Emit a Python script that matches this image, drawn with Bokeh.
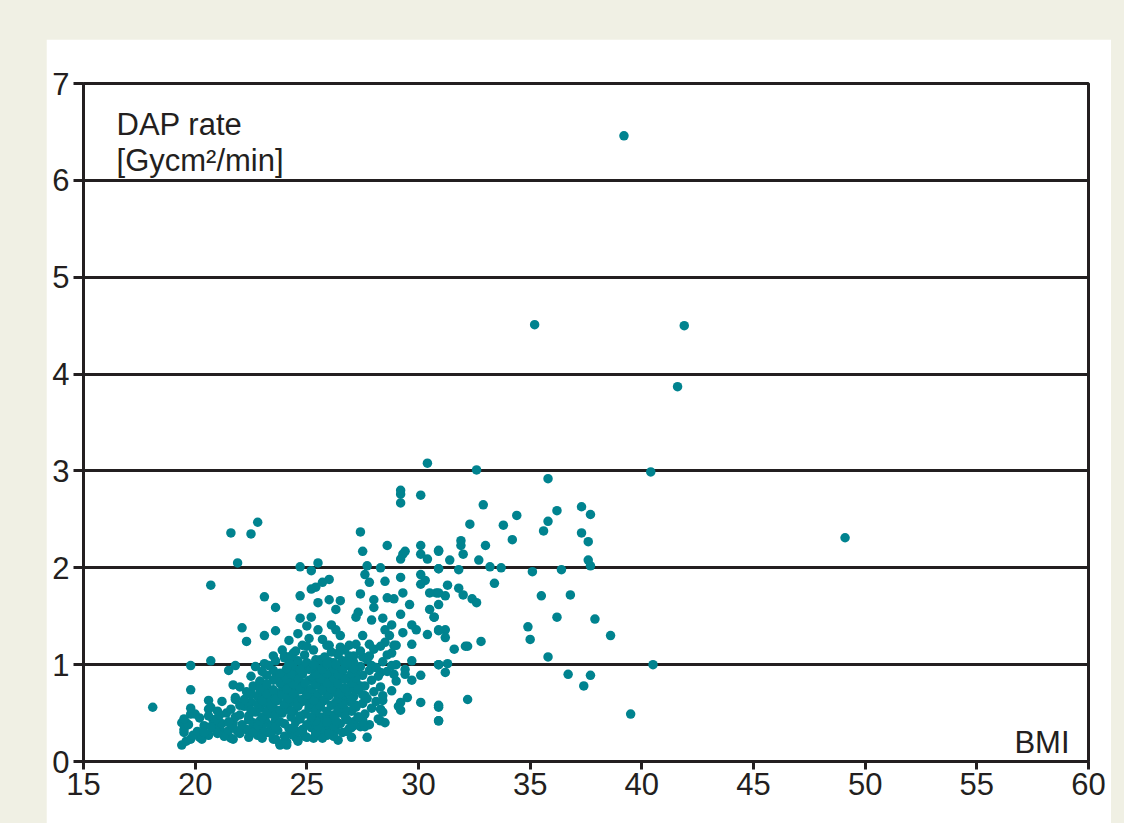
from bokeh.plotting import figure
from bokeh.models import Range1d, FixedTicker, Label, Column
from bokeh.embed import file_html
from bokeh.resources import INLINE

# ---------------- data ----------------
x_ticks = [15, 20, 25, 30, 35, 40, 45, 50, 55, 60]
y_ticks = [0, 1, 2, 3, 4, 5, 6, 7]

# isolated high values
bmi_out = [39.2, 35.2, 41.9, 41.6, 40.4, 49.1, 40.5, 39.5, 38.6, 37.9, 30.4]
rate_out = [6.46, 4.51, 4.50, 3.87, 2.99, 2.31, 1.00, 0.49, 1.30, 1.47, 3.08]

# upper-right scatter (BMI 30-38)
bmi_right = [32.6, 35.8, 32.9, 34.4, 36.2, 37.3, 37.7, 32.3, 33.8, 35.8, 35.6, 37.3,
             37.6, 31.9, 31.9, 32.0, 33.0, 34.2, 30.9, 31.4, 32.7, 37.6, 37.7, 30.9,
             31.8, 33.2, 33.7, 35.1, 36.4, 33.4, 31.3, 31.8, 30.8, 31.2, 32.0, 32.4,
             32.6, 35.5, 36.8, 30.9, 30.7, 36.2, 34.9, 35.0, 30.9, 31.2, 31.2, 32.8,
             31.6, 32.1, 32.2, 35.8, 30.9, 31.3, 31.2, 36.7, 37.7, 37.4, 32.2, 30.9,
             30.9]
rate_right = [3.01, 2.92, 2.65, 2.54, 2.59, 2.63, 2.55, 2.45, 2.44, 2.48, 2.38, 2.36,
              2.27, 2.28, 2.23, 2.14, 2.23, 2.29, 2.18, 2.08, 2.08, 2.08, 2.02, 1.99,
              1.98, 2.01, 2.00, 1.96, 1.98, 1.84, 1.82, 1.79, 1.74, 1.71, 1.72, 1.68,
              1.64, 1.71, 1.72, 1.62, 1.49, 1.49, 1.39, 1.26, 1.35, 1.36, 1.28, 1.24,
              1.16, 1.19, 1.19, 1.08, 1.00, 1.01, 0.92, 0.90, 0.89, 0.78, 0.64, 0.56,
              0.42]

# middle band (BMI 24-31, rate 1-2.8)
bmi_mid = [29.2, 29.2, 30.1, 29.2, 27.4, 27.5, 28.6, 29.3, 29.2, 30.1, 30.1, 30.9,
           30.4, 24.7, 25.2, 25.5, 27.7, 28.3, 30.9, 27.6, 29.2, 30.1, 30.3, 27.8,
           28.5, 26.0, 25.7, 25.4, 25.2, 30.1, 24.7, 27.4, 30.5, 30.9, 25.5, 26.0,
           26.5, 28.0, 28.6, 28.9, 29.3, 26.3, 28.0, 29.6, 27.3, 29.2, 30.5, 24.7,
           25.2, 27.2, 28.4, 30.7, 26.1, 27.9, 28.8, 29.7, 25.5, 26.3, 29.9, 28.5,
           30.9, 25.1, 25.7, 26.5, 27.5, 28.7, 29.3, 30.4, 26.0, 26.9, 27.8, 28.5,
           28.9, 29.7, 26.4, 27.1, 27.8, 28.8, 24.0, 24.4, 25.4, 26.2, 27.0, 27.9,
           28.3, 29.0, 29.4, 29.7, 30.1, 30.9, 29.4, 24.2, 24.6, 23.9, 24.4, 24.8,
           25.0]
rate_mid = [2.76, 2.67, 2.75, 2.80, 2.37, 2.17, 2.23, 2.14, 2.09, 2.23, 2.14, 2.17,
            2.09, 2.01, 1.97, 2.05, 2.02, 2.00, 1.99, 1.93, 1.90, 1.93, 1.87, 1.85,
            1.86, 1.88, 1.85, 1.80, 1.78, 1.83, 1.71, 1.73, 1.74, 1.74, 1.64, 1.67,
            1.66, 1.67, 1.69, 1.68, 1.74, 1.57, 1.59, 1.62, 1.54, 1.52, 1.57, 1.48,
            1.49, 1.49, 1.48, 1.49, 1.41, 1.46, 1.41, 1.41, 1.36, 1.36, 1.36, 1.36,
            1.36, 1.27, 1.26, 1.30, 1.30, 1.30, 1.33, 1.31, 1.20, 1.20, 1.21, 1.23,
            1.20, 1.21, 1.12, 1.09, 1.09, 1.12, 1.09, 1.04, 1.05, 1.02, 0.97, 0.99,
            0.92, 1.00, 0.90, 0.84, 0.89, 1.00, 2.17, 1.25, 1.32, 1.15, 1.12, 1.20,
            1.40]

# lower-right of the cloud (BMI 27-31, rate < 0.7)
bmi_low = [29.2, 30.1, 30.9, 30.9, 29.2, 28.4, 28.3, 28.3, 27.7, 27.1, 27.5, 27.1,
           27.6, 27.4, 26.6, 26.3, 25.8, 25.4, 24.8, 24.5, 24.1, 23.8]
rate_low = [0.61, 0.61, 0.58, 0.42, 0.53, 0.63, 0.54, 0.42, 0.25, 0.37, 0.43, 0.58,
            0.68, 0.78, 0.71, 0.58, 0.40, 0.30, 0.33, 0.25, 0.17, 0.17]

# left part (BMI 18-24)
bmi_left = [22.8, 21.6, 22.5, 21.9, 20.7, 23.1, 23.6, 22.1, 22.3, 23.1, 23.6, 19.8,
            20.7, 21.5, 21.8, 23.1, 23.5, 24.0, 19.8, 18.1, 20.6, 20.6, 19.8, 19.6,
            19.5, 19.4, 19.8, 20.2, 20.6, 20.9, 21.1, 21.4, 21.7, 22.0, 21.7, 21.8,
            21.7, 22.5, 22.9, 22.9, 22.3, 22.4, 22.6, 20.8, 21.1, 23.3, 23.5, 23.3,
            23.8, 23.8, 24.1, 24.1, 23.2, 22.9, 23.6, 23.8, 23.6, 19.4]
rate_left = [2.47, 2.36, 2.35, 2.05, 1.82, 1.70, 1.59, 1.38, 1.24, 1.30, 1.35, 0.99,
             1.04, 0.94, 0.99, 1.01, 1.09, 1.07, 0.74, 0.56, 0.63, 0.54, 0.49, 0.40,
             0.30, 0.17, 0.23, 0.25, 0.27, 0.37, 0.33, 0.30, 0.23, 0.32, 0.40, 0.64,
             0.79, 0.71, 0.82, 0.71, 0.58, 0.43, 0.37, 0.43, 0.40, 0.63, 0.54, 0.74,
             0.85, 0.71, 0.95, 0.58, 0.40, 0.30, 0.23, 0.18, 1.04, 0.40]

# dense core (BMI 19.5-29.5, rate 0.2-1.2)
bmi_core = [23.8, 24.1, 26.4, 19.6, 20.3, 21.6, 23.5, 24.6, 25.3,
            19.9, 20.6, 21.3, 22.0, 22.8, 23.2, 24.3, 24.9, 25.5, 25.9, 26.6,
            19.5, 20.1, 20.9, 21.5, 22.3, 23.0, 23.7, 24.2, 24.8, 25.2, 25.7, 26.3, 26.9, 27.4,
            19.7, 20.4, 21.2, 22.1, 22.6, 23.4, 24.0, 24.5, 25.0, 25.5, 26.0, 26.5, 27.1, 27.8, 28.5,
            19.5, 20.2, 20.9, 21.8, 22.4, 23.1, 23.6, 24.3, 24.7, 25.2, 25.6, 26.1, 26.8, 27.3, 28.2,
            20.0, 21.4, 22.0, 22.7, 23.3, 23.9, 24.4, 24.9, 25.4, 25.9, 26.4, 27.0, 27.6, 28.4,
            19.8, 20.7, 21.6, 22.2, 22.9, 23.5, 24.1, 24.6, 25.1, 25.6, 26.1, 26.7, 27.2, 27.9, 29.1,
            21.2, 22.5, 23.2, 23.7, 24.3, 24.8, 25.3, 25.8, 26.3, 26.9, 27.5, 28.1,
            21.8, 22.8, 23.4, 24.0, 24.5, 25.0, 25.5, 26.0, 26.6, 27.1, 27.7, 28.4, 29.5,
            22.3, 23.0, 23.6, 24.2, 24.7, 25.2, 25.7, 26.2, 26.8, 27.3, 28.0, 28.8,
            22.0, 22.6, 23.2, 23.9, 24.4, 24.9, 25.4, 25.9, 26.4, 27.0, 27.6, 28.3,
            22.9, 23.5, 24.1, 24.6, 25.1, 25.6, 26.1, 26.7, 27.2, 27.9, 29.0,
            22.5, 23.2, 23.8, 24.3, 24.8, 25.3, 25.9, 26.4, 26.9, 27.5, 28.2, 28.9,
            23.0, 23.5, 24.0, 24.6, 25.1, 25.6, 26.1, 26.6, 27.2, 27.8, 28.6, 29.4,
            22.7, 23.3, 24.4, 24.9, 25.4, 25.8, 26.3, 26.8, 27.4, 28.1, 28.8,
            24.6, 25.0, 25.6, 26.0, 26.6, 27.1, 27.7, 28.4, 29.7,
            24.3, 24.9, 25.8, 26.4, 26.9, 27.5, 28.6,
            24.5, 25.3, 26.1, 26.7, 27.4, 28.0,
            25.0, 25.9, 26.5, 27.2, 28.3, 29.0]
rate_core = [0.18, 0.20, 0.22, 0.21, 0.23, 0.24, 0.23, 0.21, 0.24,
             0.27, 0.28, 0.26, 0.29, 0.27, 0.30, 0.28, 0.26, 0.29, 0.27, 0.30,
             0.33, 0.31, 0.34, 0.32, 0.33, 0.35, 0.32, 0.34, 0.31, 0.35, 0.33, 0.32, 0.34, 0.36,
             0.38, 0.37, 0.39, 0.38, 0.40, 0.37, 0.39, 0.41, 0.38, 0.40, 0.37, 0.39, 0.41, 0.38, 0.40,
             0.44, 0.45, 0.43, 0.46, 0.44, 0.45, 0.43, 0.46, 0.44, 0.43, 0.46, 0.45, 0.43, 0.46, 0.44,
             0.49, 0.50, 0.48, 0.51, 0.49, 0.50, 0.52, 0.49, 0.51, 0.48, 0.50, 0.52, 0.49, 0.51,
             0.55, 0.56, 0.54, 0.57, 0.55, 0.56, 0.54, 0.57, 0.55, 0.56, 0.58, 0.54, 0.56, 0.55, 0.57,
             0.62, 0.61, 0.60, 0.63, 0.61, 0.62, 0.60, 0.63, 0.61, 0.62, 0.60, 0.62,
             0.66, 0.67, 0.65, 0.68, 0.66, 0.67, 0.65, 0.68, 0.66, 0.67, 0.65, 0.68, 0.66,
             0.72, 0.73, 0.71, 0.72, 0.74, 0.71, 0.73, 0.72, 0.71, 0.74, 0.72, 0.73,
             0.77, 0.78, 0.76, 0.78, 0.77, 0.76, 0.79, 0.77, 0.78, 0.76, 0.78, 0.77,
             0.83, 0.84, 0.82, 0.83, 0.84, 0.82, 0.83, 0.85, 0.82, 0.84, 0.83,
             0.88, 0.89, 0.87, 0.88, 0.90, 0.87, 0.89, 0.88, 0.87, 0.89, 0.88, 0.90,
             0.93, 0.94, 0.92, 0.93, 0.95, 0.92, 0.94, 0.93, 0.92, 0.94, 0.93, 0.95,
             0.98, 0.99, 0.97, 0.99, 0.98, 1.00, 0.97, 0.99, 0.98, 0.97, 0.99,
             1.04, 1.02, 1.05, 1.03, 1.04, 1.02, 1.05, 1.03, 1.04,
             1.09, 1.10, 1.08, 1.10, 1.09, 1.08, 1.10,
             1.14, 1.15, 1.13, 1.15, 1.14, 1.16,
             1.19, 1.20, 1.18, 1.21, 1.19, 1.20]

# in-between points of the dense core
bmi_fill = [22.4, 23.0, 24.0, 25.0, 25.7, 26.2, 27.0,
            20.4, 21.0, 21.9, 22.6, 23.4, 24.6, 25.4, 26.0, 26.8,
            20.7, 21.7, 22.8, 23.6, 24.4, 25.5, 26.2, 27.0, 27.6,
            21.5, 22.9, 23.8, 25.4, 25.9, 26.3, 27.5,
            20.6, 21.1, 22.4, 23.0, 23.6, 24.7, 25.2, 26.2, 26.7, 27.3,
            21.0, 22.5, 23.2, 23.8, 24.3, 25.4, 25.9, 26.4,
            22.0, 22.8, 23.4, 24.0, 24.6, 25.1, 25.6, 26.6, 27.2,
            22.2, 23.0, 23.6, 24.2, 24.8, 25.3, 25.8, 26.4, 27.0,
            22.5, 23.2, 23.9, 24.4, 25.0, 25.5, 26.0, 26.5, 27.5,
            22.9, 23.5, 24.1, 24.7, 25.2, 25.7, 26.1, 26.7, 27.3,
            23.2, 23.8, 24.4, 24.9, 25.4, 25.9, 26.4, 27.0,
            23.6, 24.1, 24.6, 25.6, 26.2, 26.7, 27.2,
            23.8, 24.3, 24.8, 25.4, 25.9, 26.4, 27.0,
            24.1, 24.7, 25.2, 25.7, 26.2, 26.6, 27.1,
            24.2, 25.3, 25.9, 26.3, 26.8]
rate_fill = [0.25, 0.24, 0.26, 0.25, 0.24, 0.26, 0.25,
             0.30, 0.29, 0.31, 0.30, 0.29, 0.31, 0.30, 0.29, 0.31,
             0.36, 0.35, 0.37, 0.36, 0.35, 0.36, 0.37, 0.35, 0.36,
             0.41, 0.42, 0.41, 0.42, 0.41, 0.42, 0.41,
             0.47, 0.48, 0.47, 0.46, 0.48, 0.47, 0.46, 0.48, 0.47, 0.46,
             0.52, 0.53, 0.52, 0.53, 0.52, 0.53, 0.52, 0.53,
             0.58, 0.59, 0.58, 0.59, 0.58, 0.59, 0.58, 0.59, 0.58,
             0.64, 0.63, 0.64, 0.65, 0.64, 0.63, 0.64, 0.65, 0.64,
             0.69, 0.70, 0.69, 0.70, 0.69, 0.70, 0.69, 0.70, 0.69,
             0.75, 0.74, 0.75, 0.76, 0.75, 0.74, 0.75, 0.76, 0.75,
             0.80, 0.81, 0.80, 0.81, 0.80, 0.81, 0.80, 0.81,
             0.86, 0.85, 0.86, 0.85, 0.86, 0.85, 0.86,
             0.91, 0.90, 0.91, 0.90, 0.91, 0.90, 0.91,
             0.96, 0.95, 0.96, 0.95, 0.96, 0.95, 0.96,
             1.01, 1.00, 1.01, 1.00, 1.01]

bmi = bmi_out + bmi_right + bmi_mid + bmi_low + bmi_left + bmi_core + bmi_fill
dap_rate = rate_out + rate_right + rate_mid + rate_low + rate_left + rate_core + rate_fill

# ---------------- styling ----------------
INK = "#231F20"
TEAL = "#00838F"
FONT = "Liberation Sans"

p = figure(width=1065, height=784,
           x_range=Range1d(15, 60), y_range=Range1d(0, 7),
           output_backend="svg", toolbar_location=None, title=None,
           min_border_left=37, min_border_right=23,
           min_border_top=44, min_border_bottom=62)
p.margin = (39, 0, 0, 46)
p.background_fill_color = "white"
p.border_fill_color = "white"
p.outline_line_color = INK
p.outline_line_width = 3
p.outline_line_alpha = 1.0

p.xgrid.visible = False
p.ygrid.grid_line_color = INK
p.ygrid.grid_line_width = 3
p.ygrid.grid_line_alpha = 1.0

p.xaxis.ticker = FixedTicker(ticks=x_ticks)
p.yaxis.ticker = FixedTicker(ticks=y_ticks)
for ax in (p.xaxis, p.yaxis):
    ax.axis_line_color = INK
    ax.axis_line_width = 3
    ax.major_tick_line_color = INK
    ax.major_tick_line_width = 3
    ax.major_tick_in = 0
    ax.minor_tick_in = 0
    ax.minor_tick_out = 0
    ax.major_label_text_font = FONT
    ax.major_label_text_font_size = "31px"
    ax.major_label_text_color = INK
p.xaxis.major_tick_out = 8
p.yaxis.major_tick_out = 10
p.xaxis.major_label_standoff = 3
p.yaxis.major_label_standoff = 4

p.scatter(bmi, dap_rate, marker="circle", size=9.5,
          fill_color=TEAL, line_color=None)

p.add_layout(Label(x=16.48, y=6.58, text="DAP rate", text_font=FONT,
                   text_font_size="31px", text_color=INK,
                   text_baseline="alphabetic"))
p.add_layout(Label(x=16.48, y=6.21, text="[Gycm²/min]", text_font=FONT,
                   text_font_size="31px", text_color=INK,
                   text_baseline="alphabetic"))
p.add_layout(Label(x=59.15, y=0.196, text="BMI", text_font=FONT,
                   text_font_size="31px", text_color=INK,
                   text_align="right", text_baseline="alphabetic"))

page = Column(children=[p], width=1124, height=823,
              styles={"background-color": "#F0F0E4"})

open("out.html", "w").write(file_html(page, INLINE))
